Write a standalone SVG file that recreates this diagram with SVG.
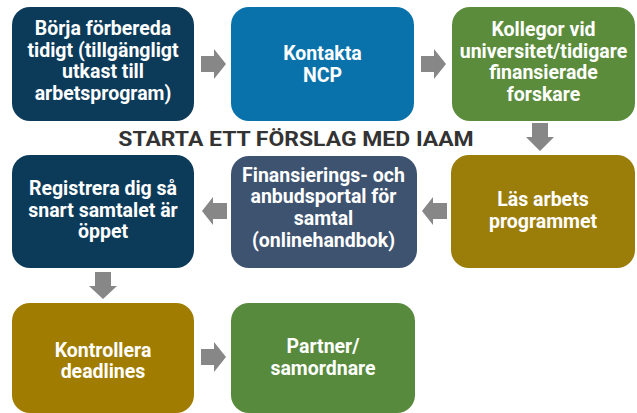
<svg xmlns="http://www.w3.org/2000/svg" width="637" height="413" viewBox="0 0 637 413">
<style>
.box text{font-family:Roboto,"Liberation Sans",sans-serif;font-weight:bold;font-size:19.5px;fill:#fff;text-anchor:middle}
.arrow{fill:#878787}
.title{font-family:Roboto,"Liberation Sans",sans-serif;font-weight:bold;font-size:20.5px;fill:#333;text-anchor:middle}
</style>
<rect width="637" height="413" fill="#fff"/>
<g id="n1" class="box"><rect x="12" y="7" width="182" height="114" rx="18" fill="#0c3b5a"/>
<text x="103" y="35">Börja förbereda</text><text x="103" y="57">tidigt (tillgängligt</text><text x="103" y="78">utkast till</text><text x="103" y="100">arbetsprogram)</text></g>
<g id="n2" class="box"><rect x="231" y="7" width="183" height="114" rx="18" fill="#0a72ab"/>
<text x="322.5" y="60">Kontakta</text><text x="322.5" y="82">NCP</text></g>
<g id="n3" class="box"><rect x="452" y="7" width="183" height="114" rx="18" fill="#5b8c3c"/>
<text x="543.5" y="36">Kollegor vid</text><text x="543.5" y="58">universitet/tidigare</text><text x="543.5" y="79">finansierade</text><text x="543.5" y="101">forskare</text></g>
<g transform="translate(296,0) scale(1.12,1) translate(-296,0)"><text class="title" x="296" y="146.5">STARTA ETT FÖRSLAG MED IAAM</text></g>
<g id="n4" class="box"><rect x="12" y="155" width="182" height="113" rx="18" fill="#0c3b5a"/>
<text x="103" y="195">Registrera dig så</text><text x="103" y="217">snart samtalet är</text><text x="103" y="238">öppet</text></g>
<g id="n5" class="box"><rect x="231" y="156" width="186" height="112" rx="18" fill="#3e5370"/>
<text x="323.5" y="182">Finansierings- och</text><text x="323.5" y="203">anbudsportal för</text><text x="323.5" y="225">samtal</text><text x="323.5" y="247">(onlinehandbok)</text></g>
<g id="n6" class="box"><rect x="451" y="155" width="184" height="113" rx="18" fill="#9b7d0a"/>
<text x="543" y="206">Läs arbets</text><text x="543" y="228">programmet</text></g>
<g id="n7" class="box"><rect x="12" y="303" width="182" height="110" rx="18" fill="#a07c00"/>
<text x="103" y="357">Kontrollera</text><text x="103" y="378">deadlines</text></g>
<g id="n8" class="box"><rect x="231" y="303" width="184" height="110" rx="18" fill="#578a3c"/>
<text x="323" y="353">Partner/</text><text x="323" y="375">samordnare</text></g>
<g id="connectors">
<polygon class="arrow" points="201,56 214,56 214,49 226,64 214,79 214,72 201,72"/>
<polygon class="arrow" points="421,56 434,56 434,49 446,64 434,79 434,72 421,72"/>
<polygon class="arrow" points="532,123 548,123 548,137 554,137 540,151 526,137 532,137"/>
<polygon class="arrow" points="447,203 433,203 433,197 422,211 433,225 433,219 447,219"/>
<polygon class="arrow" points="227,203 213,203 213,197 202,211 213,225 213,219 227,219"/>
<polygon class="arrow" points="95,272 111,272 111,286 117,286 103,299 89,286 95,286"/>
<polygon class="arrow" points="201,349 214,349 214,342 226,357 214,372 214,365 201,365"/>
</g>
</svg>
